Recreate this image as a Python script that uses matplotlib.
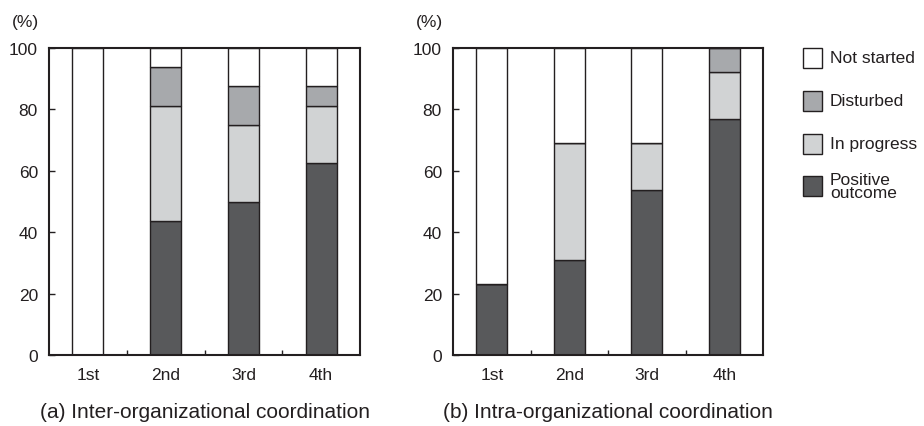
import matplotlib
matplotlib.use("Agg")
import matplotlib.pyplot as plt
from matplotlib.patches import Rectangle
import numpy as np

plt.rcParams['font.family'] = ['Liberation Sans', 'DejaVu Sans']

cats = ['1st', '2nd', '3rd', '4th']

# inter-organizational coordination (%)
inter_positive = [0, 43.75, 50.0, 62.5]
inter_progress = [0, 37.5, 25.0, 18.75]
inter_disturbed = [0, 12.5, 12.5, 6.25]
inter_notstarted = [100, 6.25, 12.5, 12.5]

# intra-organizational coordination (%)
intra_positive = [23.1, 30.8, 53.8, 76.9]
intra_progress = [0, 38.4, 15.4, 15.4]
intra_disturbed = [0, 0, 0, 7.7]
intra_notstarted = [76.9, 30.8, 30.8, 0]

labels = ['Not started', 'Disturbed', 'In progress', 'Positive\noutcome']
colors = ['#ffffff', '#a7a9ac', '#d1d3d4', '#58595b']
edge = '#231f20'
fs = 12.5

W, H = 924, 427
fig = plt.figure(figsize=(W / 100, H / 100), dpi=100)

def px(x0, y0, w, h):
    # pixel box (top-left origin) -> figure fraction
    return [x0 / W, 1 - (y0 + h) / H, w / W, h / H]

def stacked(ax, pos, prog, dist, nots):
    x = np.arange(len(cats))
    bottom = np.zeros(len(cats))
    for vals, col in [(pos, colors[3]), (prog, colors[2]), (dist, colors[1]), (nots, colors[0])]:
        vals = np.array(vals, dtype=float)
        ax.bar(x, vals, width=0.4, bottom=bottom, color=col, edgecolor=edge, linewidth=1.0, zorder=2)
        bottom += vals
    ax.set_xlim(-0.5, 3.5)
    ax.set_ylim(0, 100)
    ax.set_yticks([0, 20, 40, 60, 80, 100])
    ax.set_xticks(x)
    ax.set_xticklabels(cats)
    ax.set_xticks([0.5, 1.5, 2.5], minor=True)
    ax.tick_params(axis='x', which='major', length=0, pad=9, labelsize=fs, colors='#231f20')
    ax.tick_params(axis='x', which='minor', direction='in', length=3.5, width=1.0, color=edge)
    ax.tick_params(axis='y', direction='in', length=4, width=1.0, pad=8, labelsize=fs, colors='#231f20')
    for s in ax.spines.values():
        s.set_linewidth(1.5)
        s.set_color(edge)
        s.set_zorder(3)

ax1 = fig.add_axes(px(49, 49, 311, 307))
stacked(ax1, inter_positive, inter_progress, inter_disturbed, inter_notstarted)
ax2 = fig.add_axes(px(453, 49, 310, 307))
stacked(ax2, intra_positive, intra_progress, intra_disturbed, intra_notstarted)

# unit labels and captions
for x_unit, x_cap, cap in [(39, 204.5, '(a) Inter-organizational coordination'),
                           (443, 608, '(b) Intra-organizational coordination')]:
    fig.text(x_unit / W, 1 - 23 / H, '(%)', ha='right', va='center', fontsize=fs, color='#231f20')
    fig.text(x_cap / W, 1 - 413 / H, cap, ha='center', va='center', fontsize=15, color='#231f20')

# legend boxes on the right
leg_y = [49, 92, 135, 177]
for lab, col, y in zip(labels, colors, leg_y):
    fig.add_artist(Rectangle((803 / W, 1 - (y + 20) / H), 19 / W, 20 / H,
                             transform=fig.transFigure, facecolor=col,
                             edgecolor=edge, linewidth=1.0))
    fig.text(830 / W, 1 - (y + 10) / H, lab, ha='left', va='center',
             fontsize=fs, color='#231f20', linespacing=0.85)

fig.savefig('out.png', dpi=100)
